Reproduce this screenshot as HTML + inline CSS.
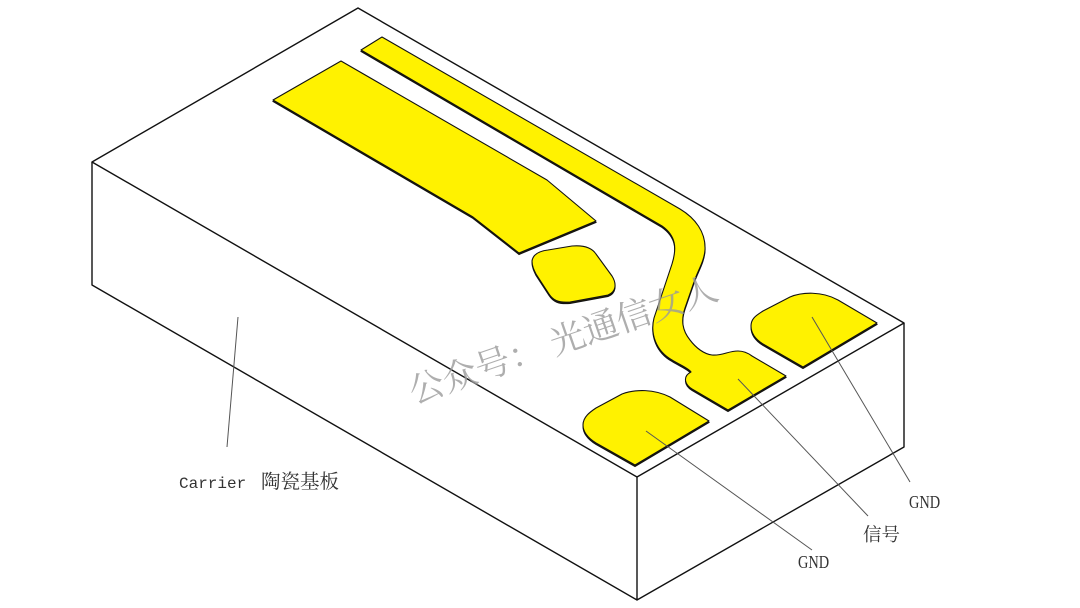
<!DOCTYPE html>
<html><head><meta charset="utf-8"><style>
html,body{margin:0;padding:0;background:#fff;width:1080px;height:608px;overflow:hidden}
svg{display:block}
</style></head><body>
<svg width="1080" height="608" viewBox="0 0 1080 608" xmlns="http://www.w3.org/2000/svg">
<defs>
<path id="p1" d="M273 100L341 61L547 180L596 221L519 253L473 217Z"/>
<path id="p2" d="M361 50L382 37L680 209C695 218 706 232 705 250C704 262 698 270 694 282L685 308C681 320 682 330 690 340C696 348 704 354 712 355C722 356 728 351 738 351C744 351 748 353 752 356L786 376L728 410L692 389C684 384 683 376 691 372C688 368 680 365 672 360C656 351 650 334 654 318L672 264C677 248 676 236 662 226Z"/>
<path id="p3" d="M532 261C533 254 540 251 548 250L572 246C584 245 592 248 596 254L612 276C617 284 616 292 608 295L570 302C558 303 553 300 549 294L536 274C534 270 532 266 532 261Z"/>
<path id="p4" d="M751 326C751 318 757 315 763 311L790 297C802 292 822 291 838 300L877 323L803 367L763 344C755 339 751 333 751 326Z"/>
<path id="p5" d="M583 425C583 417 590 412 596 408L622 394C636 389 654 389 670 397L709 421L635 465L596 443C588 438 583 432 583 425Z"/>
</defs>
<g fill="none" stroke="#111" stroke-width="1.4" stroke-linejoin="round">
<path d="M358 8L904 323L637 477L92 162Z"/>
<path d="M92 162V285L637 600L904 447V323M637 477V600"/>
</g>
<g fill="#2a2400" stroke="#111" stroke-width="1" transform="translate(0,1.5)">
<use href="#p1"/><use href="#p2"/><use href="#p3"/><use href="#p4"/><use href="#p5"/>
</g>
<g fill="#fff200" stroke="#111" stroke-width="1.1" stroke-linejoin="round">
<use href="#p1"/><use href="#p2"/><use href="#p3"/><use href="#p4"/><use href="#p5"/>
</g>
<text x="0" y="0" transform="translate(414 404) rotate(-19)" font-family="'Noto Serif CJK SC','Noto Sans CJK SC',serif" font-size="35" fill="#9a9a9a" fill-opacity=".8">公众号： 光通信女人</text>
<g stroke="#555" stroke-width="1" fill="none">
<path d="M238 317L227 447"/>
<path d="M646 431L812 550"/>
<path d="M738 379L868 516"/>
<path d="M812 317L910 482"/>
</g>
<g fill="#333" font-family="'Liberation Mono','Noto Serif CJK SC',monospace">
<text x="179" y="488" font-size="16">Carrier</text>
<text x="261" y="488" font-size="19.5" font-family="'Noto Serif CJK SC',serif">陶瓷基板</text>
<text x="863" y="541" font-size="18.5" font-family="'Noto Serif CJK SC',serif">信号</text>
<text x="0" y="0" transform="translate(909 508) scale(.8 1)" font-size="18" font-family="'Liberation Serif',serif">GND</text>
<text x="0" y="0" transform="translate(798 568) scale(.8 1)" font-size="18" font-family="'Liberation Serif',serif">GND</text>
</g>
</svg>
</body></html>
